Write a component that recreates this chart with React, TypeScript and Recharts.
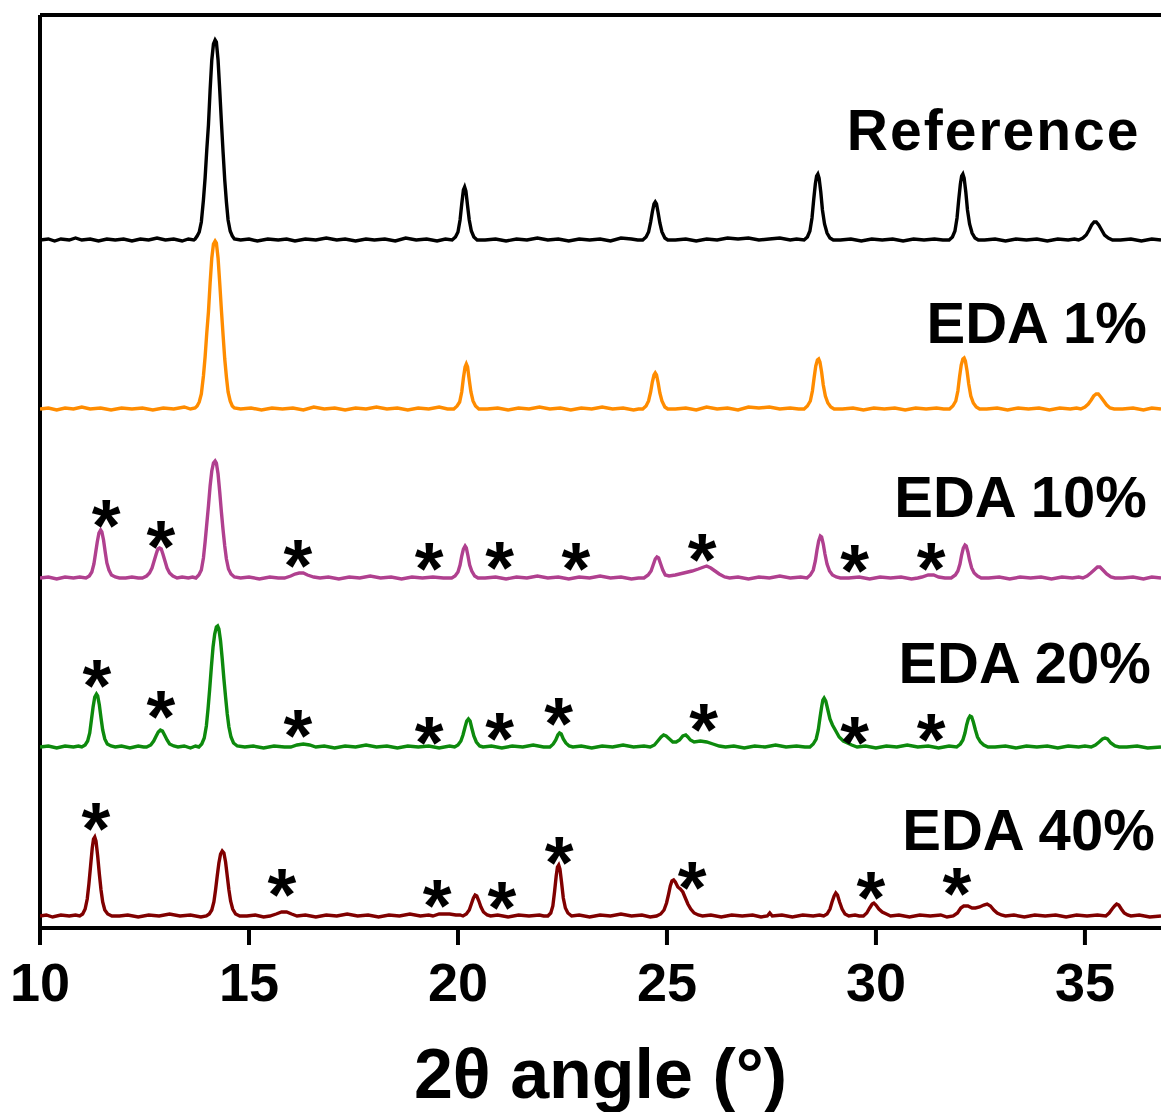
import React from 'react';
import { ComposedChart, Line, Scatter, XAxis, YAxis, ReferenceLine, Label } from 'recharts';

// 2θ (deg) , intensity above each pattern's own baseline
const referencePattern: [number, number][] = [
  [10,0],[10.2,1],[10.35,-1],[10.5,1],[10.7,0],[10.85,2],[11.0,0],[11.2,1],[11.4,-1],[11.6,1],[11.8,0],[12.0,1],[12.2,-1],[12.4,1],[12.6,0],[12.8,2],[13.0,0],[13.2,1],[13.4,-1],[13.55,1],[13.68,0],
  [13.71,1],[13.76,4],[13.81,8],[13.86,18],[13.91,40],[13.95,62],[13.99,90],[14.03,115],[14.07,150],[14.11,180],[14.15,196],[14.19,200],[14.22,198],[14.26,180],[14.3,150],[14.34,118],[14.38,88],[14.42,60],[14.46,38],[14.5,20],[14.55,9],[14.6,4],[14.65,1],
  [14.8,0],[15.0,1],[15.2,-1],[15.45,1],[15.7,0],[15.9,1],[16.1,-1],[16.35,1],[16.6,0],[16.85,2],[17.1,0],[17.3,1],[17.55,-1],[17.8,1],[18.0,0],[18.25,1],[18.5,-1],[18.75,2],[19.0,0],[19.25,1],[19.5,-1],[19.7,1],
  [19.86,0],[19.94,3],[20.0,8],[20.05,20],[20.09,36],[20.13,50],[20.16,53],[20.19,49],[20.23,34],[20.27,20],[20.32,9],[20.38,3],[20.46,0],
  [20.65,0],[20.9,1],[21.15,-1],[21.4,1],[21.65,0],[21.9,2],[22.15,0],[22.4,1],[22.65,-1],[22.9,1],[23.15,0],[23.4,1],[23.65,-1],[23.9,2],[24.15,1],[24.3,0],
  [24.42,0],[24.5,3],[24.56,8],[24.61,18],[24.65,28],[24.69,36],[24.72,38],[24.75,36],[24.79,27],[24.83,17],[24.88,8],[24.95,2],[25.02,0],
  [25.2,0],[25.45,1],[25.7,-1],[25.95,1],[26.2,0],[26.45,2],[26.7,1],[26.95,2],[27.2,0],[27.45,1],[27.7,2],[27.95,0],[28.1,1],
  [28.28,0],[28.36,3],[28.42,9],[28.47,22],[28.51,40],[28.55,56],[28.58,64],[28.61,66],[28.64,62],[28.68,48],[28.72,30],[28.77,16],[28.83,7],[28.9,2],[28.98,0],
  [29.15,0],[29.4,1],[29.65,-1],[29.9,1],[30.15,0],[30.4,1],[30.65,-1],[30.9,1],[31.15,0],[31.4,1],[31.6,0],
  [31.75,0],[31.83,3],[31.89,9],[31.94,22],[31.98,40],[32.02,56],[32.05,64],[32.08,66],[32.11,62],[32.15,48],[32.19,30],[32.24,16],[32.3,7],[32.37,2],[32.45,0],
  [32.6,0],[32.85,1],[33.1,-1],[33.35,1],[33.6,0],[33.85,1],[34.1,-1],[34.35,1],[34.6,0],[34.75,1],
  [34.85,0],[34.95,2],[35.03,5],[35.1,10],[35.16,15],[35.22,18],[35.27,18],[35.33,15],[35.4,10],[35.47,5],[35.56,2],[35.66,0],
  [35.85,0],[36.1,1],[36.35,-1],[36.6,1],[36.82,0],
];

const eda1Pattern: [number, number][] = [
  [10,0],[10.2,1],[10.4,-1],[10.6,1],[10.8,0],[11.0,2],[11.2,0],[11.45,1],[11.7,-1],[11.95,1],[12.2,0],[12.45,1],[12.7,-1],[12.95,1],[13.2,0],[13.45,2],[13.6,0],
  [13.71,1],[13.76,3],[13.81,7],[13.86,15],[13.91,33],[13.95,52],[13.99,76],[14.03,97],[14.07,126],[14.11,151],[14.15,165],[14.19,168],[14.22,166],[14.26,151],[14.3,126],[14.34,99],[14.38,74],[14.42,50],[14.46,32],[14.5,17],[14.55,8],[14.6,3],[14.65,1],
  [14.8,0],[15.05,1],[15.3,-1],[15.55,1],[15.8,0],[16.05,1],[16.3,-1],[16.55,2],[16.8,0],[17.05,1],[17.3,-1],[17.55,1],[17.8,0],[18.05,2],[18.3,0],[18.55,1],[18.8,-1],[19.05,1],[19.3,0],[19.55,2],[19.75,0],
  [19.9,0],[19.98,3],[20.04,7],[20.09,17],[20.13,31],[20.17,42],[20.2,45],[20.23,42],[20.27,29],[20.31,17],[20.36,8],[20.42,3],[20.5,0],
  [20.7,0],[20.95,1],[21.2,-1],[21.45,1],[21.7,0],[21.95,2],[22.2,0],[22.45,1],[22.7,-1],[22.95,1],[23.2,0],[23.45,2],[23.7,0],[23.95,1],[24.2,-1],[24.32,0],
  [24.42,0],[24.5,3],[24.56,8],[24.61,17],[24.65,27],[24.69,34],[24.72,36],[24.75,34],[24.79,26],[24.83,16],[24.88,8],[24.95,2],[25.02,0],
  [25.2,0],[25.45,1],[25.7,-1],[25.95,2],[26.2,0],[26.45,1],[26.7,-1],[26.95,2],[27.2,1],[27.45,2],[27.7,0],[27.95,1],[28.15,0],
  [28.28,0],[28.36,3],[28.43,8],[28.48,18],[28.52,31],[28.56,43],[28.6,49],[28.63,50],[28.66,47],[28.7,37],[28.74,24],[28.79,13],[28.85,6],[28.92,2],[29.0,0],
  [29.2,0],[29.45,1],[29.7,-1],[29.95,1],[30.2,0],[30.45,1],[30.7,-1],[30.95,1],[31.2,0],[31.45,1],[31.62,0],
  [31.76,0],[31.84,3],[31.91,8],[31.96,18],[32.0,32],[32.04,44],[32.08,50],[32.11,51],[32.14,48],[32.18,38],[32.22,25],[32.27,13],[32.33,6],[32.4,2],[32.48,0],
  [32.65,0],[32.9,1],[33.15,-1],[33.4,1],[33.65,0],[33.9,1],[34.15,-1],[34.4,1],[34.65,0],[34.8,1],
  [34.9,0],[35.0,2],[35.08,5],[35.15,9],[35.21,13],[35.27,15],[35.32,15],[35.38,12],[35.45,8],[35.52,4],[35.6,1],[35.7,0],
  [35.9,0],[36.15,1],[36.4,-1],[36.6,1],[36.82,0],
];

const eda10Pattern: [number, number][] = [
  [10,0],[10.2,1],[10.4,-1],[10.6,1],[10.8,0],[10.95,1],
  [11.1,0],[11.18,2],[11.24,6],[11.29,14],[11.33,25],[11.37,36],[11.41,45],[11.45,48],[11.48,46],[11.52,38],[11.56,26],[11.6,15],[11.65,8],[11.71,3],[11.8,1],[11.9,0],
  [12.05,0],[12.2,1],[12.35,0],
  [12.45,0],[12.55,2],[12.62,5],[12.68,10],[12.73,17],[12.78,24],[12.82,29],[12.86,30],[12.9,29],[12.94,24],[12.99,17],[13.04,10],[13.1,5],[13.18,2],[13.28,0],
  [13.4,1],[13.55,0],[13.65,1],
  [13.73,0],[13.8,3],[13.86,8],[13.91,20],[13.95,36],[13.99,54],[14.03,72],[14.07,92],[14.11,107],[14.15,115],[14.19,117],[14.22,115],[14.26,104],[14.3,86],[14.34,66],[14.38,48],[14.42,32],[14.46,19],[14.51,9],[14.57,4],[14.65,1],
  [14.8,0],[15.0,1],[15.25,-1],[15.5,1],[15.7,0],
  [15.85,0],[16.0,2],[16.1,4],[16.2,5],[16.3,5],[16.4,3],[16.55,1],[16.7,0],
  [16.9,1],[17.15,-1],[17.4,1],[17.65,0],[17.9,2],[18.15,0],[18.4,1],[18.65,-1],[18.9,1],[19.15,0],[19.4,1],[19.65,0],
  [19.85,0],[19.93,2],[20.0,6],[20.05,13],[20.09,22],[20.13,29],[20.17,32],[20.2,30],[20.24,22],[20.28,13],[20.33,7],[20.4,2],[20.48,0],
  [20.65,0],[20.9,1],[21.15,-1],[21.4,1],[21.65,0],[21.9,2],[22.15,0],[22.4,1],[22.65,-1],[22.9,1],[23.15,0],[23.4,2],[23.65,0],[23.9,1],[24.15,-1],[24.32,0],
  [24.45,0],[24.55,3],[24.62,7],[24.67,13],[24.72,19],[24.76,21],[24.8,20],[24.85,14],[24.9,8],[24.96,3],
  [25.05,2],[25.2,3],[25.4,5],[25.6,7],[25.75,9],[25.88,11],[25.95,12],[26.05,10],[26.15,7],[26.25,4],[26.38,1],[26.5,0],
  [26.7,1],[26.95,-1],[27.2,1],[27.45,0],[27.7,2],[27.95,0],[28.2,1],
  [28.35,0],[28.43,3],[28.5,8],[28.55,17],[28.59,28],[28.63,37],[28.67,42],[28.7,41],[28.74,34],[28.78,24],[28.83,14],[28.89,7],[28.96,3],[29.05,1],[29.15,0],
  [29.35,0],[29.6,1],[29.85,-1],[30.1,1],[30.35,0],[30.6,1],[30.85,-1],[31.0,0],
  [31.1,1],[31.25,3],[31.38,3],[31.5,1],[31.65,0],
  [31.8,0],[31.9,3],[31.96,7],[32.01,14],[32.05,23],[32.09,30],[32.13,33],[32.16,32],[32.2,26],[32.24,18],[32.29,10],[32.35,5],[32.43,2],[32.52,0],
  [32.7,0],[32.95,1],[33.2,-1],[33.45,1],[33.7,0],[33.95,1],[34.2,-1],[34.45,1],[34.7,0],[34.85,1],
  [34.95,0],[35.05,2],[35.14,5],[35.22,8],[35.3,11],[35.36,11],[35.43,8],[35.52,4],[35.62,1],[35.72,0],
  [35.9,0],[36.15,1],[36.4,-1],[36.6,1],[36.82,0],
];

const eda20Pattern: [number, number][] = [
  [10,0],[10.2,1],[10.4,-1],[10.6,1],[10.8,0],[10.92,1],
  [11.0,0],[11.08,2],[11.14,6],[11.19,14],[11.23,27],[11.27,40],[11.31,50],[11.35,53],[11.38,51],[11.42,42],[11.46,29],[11.5,17],[11.55,8],[11.61,3],[11.7,1],[11.8,0],
  [11.95,1],[12.15,-1],[12.35,1],[12.48,0],
  [12.55,0],[12.65,2],[12.72,6],[12.78,11],[12.83,15],[12.88,17],[12.93,16],[12.98,12],[13.04,7],[13.1,3],[13.2,1],[13.3,0],
  [13.45,1],[13.6,-1],[13.72,1],
  [13.8,0],[13.87,3],[13.93,9],[13.98,21],[14.02,38],[14.06,58],[14.1,80],[14.14,100],[14.18,113],[14.22,120],[14.25,121],[14.28,118],[14.32,106],[14.36,88],[14.4,68],[14.44,50],[14.48,33],[14.52,20],[14.57,10],[14.63,4],[14.72,1],
  [14.9,0],[15.1,1],[15.35,-1],[15.6,1],[15.85,0],
  [16.0,0],[16.15,2],[16.3,3],[16.45,2],[16.6,0],
  [16.8,1],[17.05,-1],[17.3,1],[17.55,0],[17.8,2],[18.05,0],[18.3,1],[18.55,-1],[18.8,1],[19.05,0],[19.3,1],[19.55,-1],[19.8,1],
  [19.92,0],[20.0,2],[20.07,6],[20.12,12],[20.17,20],[20.21,26],[20.25,28],[20.29,26],[20.33,19],[20.38,11],[20.44,5],[20.52,1],[20.6,0],
  [20.8,1],[21.05,-1],[21.3,1],[21.55,0],[21.8,2],[22.05,0],
  [22.2,0],[22.28,3],[22.34,7],[22.39,12],[22.43,14],[22.47,13],[22.52,8],[22.58,4],[22.66,1],[22.75,0],
  [22.95,1],[23.2,-1],[23.45,1],[23.7,0],[23.95,2],[24.2,0],[24.45,1],
  [24.6,0],[24.7,2],[24.78,6],[24.86,10],[24.92,12],[24.98,11],[25.06,8],[25.14,5],[25.22,5],[25.3,7],[25.38,11],[25.45,12],[25.5,10],[25.56,7],[25.65,5],[25.8,6],[25.95,5],[26.1,3],[26.25,1],[26.4,0],
  [26.6,1],[26.85,-1],[27.1,1],[27.35,0],[27.6,2],[27.85,0],[28.1,1],[28.3,0],
  [28.42,0],[28.5,3],[28.57,8],[28.62,17],[28.66,29],[28.7,40],[28.73,47],[28.76,49],[28.8,46],[28.85,37],[28.9,28],[28.96,22],[29.04,16],[29.12,10],[29.22,6],[29.32,4],[29.42,2],[29.55,0],
  [29.75,1],[30.0,-1],[30.25,1],[30.5,0],[30.75,2],[31.0,0],[31.25,1],[31.5,-1],[31.75,1],
  [31.93,0],[32.02,3],[32.08,7],[32.13,14],[32.17,22],[32.21,28],[32.25,31],[32.29,30],[32.33,25],[32.38,17],[32.43,10],[32.5,5],[32.58,2],[32.68,0],
  [32.85,0],[33.1,1],[33.35,-1],[33.6,1],[33.85,0],[34.1,1],[34.35,-1],[34.6,1],[34.85,0],[35.0,1],
  [35.15,0],[35.25,2],[35.34,5],[35.42,8],[35.48,9],[35.54,8],[35.62,4],[35.72,1],[35.82,0],
  [36.0,0],[36.25,1],[36.5,-1],[36.82,0],
];

const eda40Pattern: [number, number][] = [
  [10,0],[10.15,1],[10.3,-1],[10.5,1],[10.7,0],[10.85,1],
  [10.95,0],[11.02,2],[11.08,7],[11.13,17],[11.17,32],[11.21,50],[11.25,68],[11.28,77],[11.31,79],[11.34,75],[11.38,60],[11.42,42],[11.46,26],[11.5,14],[11.55,6],[11.62,2],[11.72,0],
  [11.9,0],[12.1,1],[12.35,-1],[12.6,1],[12.85,0],[13.1,2],[13.35,0],[13.6,1],[13.85,-1],
  [13.98,0],[14.05,2],[14.11,6],[14.16,14],[14.2,26],[14.24,40],[14.28,53],[14.32,62],[14.36,65],[14.4,63],[14.44,54],[14.48,40],[14.52,26],[14.56,15],[14.61,7],[14.68,2],[14.78,0],
  [14.95,0],[15.15,1],[15.35,-1],
  [15.5,0],[15.65,2],[15.78,4],[15.9,4],[16.02,2],[16.15,0],
  [16.35,1],[16.6,-1],[16.85,1],[17.1,0],[17.35,2],[17.6,0],[17.85,1],[18.1,-1],[18.35,1],[18.6,0],[18.85,2],[19.1,0],[19.3,1],
  [19.4,0],[19.55,2],[19.8,2],[19.95,1],[20.05,1],
  [20.12,0],[20.2,2],[20.27,6],[20.32,12],[20.37,18],[20.41,21],[20.45,20],[20.5,15],[20.55,9],[20.61,4],[20.7,1],[20.78,0],
  [20.95,1],[21.2,-1],[21.45,1],[21.7,0],[21.95,1],[22.05,0],
  [22.15,0],[22.22,3],[22.27,10],[22.31,24],[22.35,40],[22.38,49],[22.41,51],[22.44,47],[22.48,33],[22.52,18],[22.57,8],[22.63,3],[22.72,0],
  [22.9,1],[23.15,-1],[23.4,1],[23.65,0],[23.9,2],[24.15,0],[24.4,1],[24.6,-1],
  [24.75,0],[24.85,2],[24.93,6],[24.99,13],[25.04,22],[25.08,30],[25.12,35],[25.16,36],[25.2,34],[25.26,29],[25.32,27],[25.38,24],[25.44,18],[25.5,12],[25.57,7],[25.65,3],[25.75,1],[25.85,0],
  [26.05,1],[26.3,-1],[26.55,1],[26.8,0],[27.05,1],[27.25,-1],[27.4,0],[27.46,3],[27.52,0],[27.75,1],[28.0,-1],[28.25,1],[28.5,0],[28.65,1],
  [28.75,0],[28.83,2],[28.9,7],[28.95,14],[29.0,20],[29.04,23],[29.08,21],[29.13,14],[29.19,7],[29.26,2],[29.35,0],
  [29.5,1],[29.6,0],
  [29.7,0],[29.78,3],[29.85,8],[29.91,12],[29.95,13],[30.0,11],[30.07,7],[30.15,4],[30.25,2],[30.35,0],
  [30.55,1],[30.8,-1],[31.05,1],[31.3,0],[31.55,1],[31.7,-1],
  [31.85,0],[31.95,3],[32.03,8],[32.1,10],[32.2,10],[32.3,8],[32.38,8],[32.48,9],[32.58,11],[32.66,12],[32.74,10],[32.82,6],[32.9,3],[33.0,1],[33.1,0],
  [33.3,1],[33.55,-1],[33.8,1],[34.05,0],[34.3,1],[34.55,-1],[34.8,1],[35.05,0],[35.3,1],
  [35.5,0],[35.58,3],[35.65,7],[35.71,10],[35.76,12],[35.81,11],[35.87,7],[35.94,3],[36.02,1],[36.1,0],
  [36.3,1],[36.55,-1],[36.82,0],
];

// asterisk annotations: [2θ, height above pattern baseline]
const eda10Stars: [number, number][] = [[11.58,68],[12.89,47],[16.17,28],[19.31,25],[21.0,26],[22.82,25],[25.84,34],[29.49,23],[31.32,25]];
const eda20Stars: [number, number][] = [[11.36,77],[12.89,46],[16.17,27],[19.31,20],[21.0,24],[22.41,39],[25.88,33],[29.49,20],[31.32,23]];
const eda40Stars: [number, number][] = [[11.34,103],[15.79,37],[19.5,26],[21.05,24],[22.42,69],[25.6,44],[29.88,34],[31.94,38]];

const seriesNames = ['Reference', 'EDA 1%', 'EDA 10%', 'EDA 20%', 'EDA 40%'];
// label anchor (right end) : [2θ, height above baseline]
const labelAnchors: [number, number][] = [[36.33,90],[36.48,66],[36.48,61],[36.58,64],[36.67,66]];
const baselineOffsets = [688, 519, 350, 181, 12];
const xTicks = [10, 15, 20, 25, 30, 35];

const colors = ['#000000', '#ff8c00', '#b0408f', '#0d8a0d', '#800000'];
const FONT = "'Liberation Sans', Arial, Helvetica, sans-serif";

const patterns = [referencePattern, eda1Pattern, eda10Pattern, eda20Pattern, eda40Pattern];
const lineData = patterns.map((pts, i) => pts.map(([x, v]) => ({ x, y: v + baselineOffsets[i] })));

const starData = [
  ...eda10Stars.map(([x, v]) => ({ x, y: v + baselineOffsets[2] })),
  ...eda20Stars.map(([x, v]) => ({ x, y: v + baselineOffsets[3] })),
  ...eda40Stars.map(([x, v]) => ({ x, y: v + baselineOffsets[4] })),
];

const labelData = labelAnchors.map(([x, v], i) => ({ x, y: v + baselineOffsets[i], name: seriesNames[i] }));

const STAR_SIZE = 74;

const StarShape = (p: any) => (
  <text x={p.cx} y={p.cy + STAR_SIZE * 0.555} textAnchor="middle" fontSize={STAR_SIZE} fontWeight="bold" fontFamily={FONT} fill="#000">*</text>
);

const LabelShape = (p: any) => {
  const isRef = p.payload.name === 'Reference';
  return (
    <text x={p.cx} y={p.cy} textAnchor="end" fontSize={isRef ? 57 : 58} letterSpacing={isRef ? 2 : 0} fontWeight="bold" fontFamily={FONT} fill="#000">{p.payload.name}</text>
  );
};

export default function App() {
  return (
    <div style={{ position: 'absolute', left: 0, top: 0, width: 1161, height: 1112, overflow: 'hidden', background: '#fff' }}>
      <ComposedChart width={1161} height={1112} margin={{ top: 15, right: 0, bottom: 0, left: 40 }}>
        <XAxis
          type="number"
          dataKey="x"
          domain={[10, 36.82]}
          allowDataOverflow
          ticks={xTicks}
          interval={0}
          height={184}
          axisLine={{ stroke: '#000', strokeWidth: 4 }}
          tickLine={{ stroke: '#000', strokeWidth: 4 }}
          tickSize={17}
          tickMargin={18}
          tick={{ fontSize: 54, fontWeight: 'bold', fill: '#000', fontFamily: FONT }}
        >
          <Label value="2θ angle (°)" position="insideBottom" offset={14} style={{ fontSize: 70, fontWeight: 'bold', fill: '#000', fontFamily: FONT }} />
        </XAxis>
        <YAxis type="number" dataKey="y" domain={[0, 913]} allowDataOverflow width={0} tick={false} tickLine={false} axisLine={false} />
        <ReferenceLine y={913} stroke="#000" strokeWidth={4} />
        <ReferenceLine x={10} stroke="#000" strokeWidth={4} />
        {[4, 3, 2, 1, 0].map((i) => (
          <Line key={i} data={lineData[i]} dataKey="y" type="linear" stroke={colors[i]} strokeWidth={3.4} dot={false} activeDot={false} isAnimationActive={false} />
        ))}
        <Scatter data={starData} dataKey="y" shape={StarShape} isAnimationActive={false} />
        <Scatter data={labelData} dataKey="y" shape={LabelShape} isAnimationActive={false} />
      </ComposedChart>
    </div>
  );
}
